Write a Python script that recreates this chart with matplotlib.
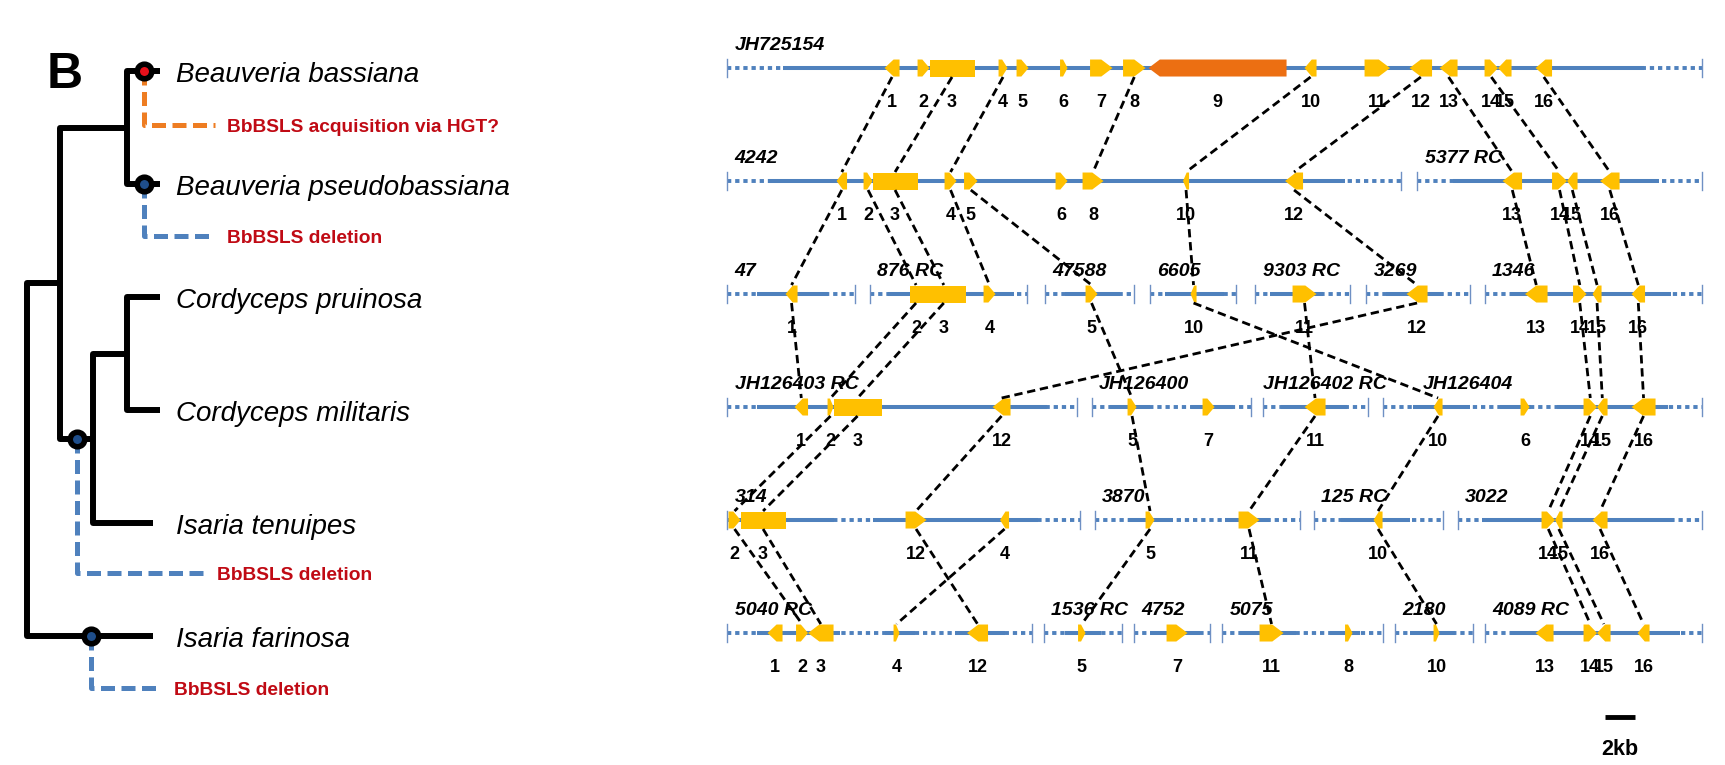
import matplotlib.pyplot as plt
from matplotlib.patches import Polygon

plt.rcParams['font.family'] = ['Liberation Sans', 'DejaVu Sans']

# ---- phylogeny (left) ----
TAXA = ['Beauveria bassiana', 'Beauveria pseudobassiana', 'Cordyceps pruinosa',
        'Cordyceps militaris', 'Isaria tenuipes', 'Isaria farinosa']
TIP_X = [160, 160, 160, 160, 153, 153]
# (node depth, children); ints are taxa indices
TREE = (27, [(60, [(127, [0, 1]), (93, [(127, [2, 3]), 4])]), 5])

EVENT_CLADE = [(0,), (1,), (2, 3, 4), (5,)]
EVENT_X = [144, 144, 77, 91]
EVENT_DROP = [0.47, 0.46, 1.19, 0.46]
EVENT_RUN = [71, 71, 128, 71]
EVENT_COLOR = ['#EE7D22', '#4F81BD', '#4F81BD', '#4F81BD']
EVENT_DOT = ['#E8101A', '#1F4E8A', '#1F4E8A', '#1F4E8A']
EVENT_TEXT = ['BbBSLS acquisition via HGT?', 'BbBSLS deletion',
              'BbBSLS deletion', 'BbBSLS deletion']

# ---- synteny (right), positions in kb ----
# contig: (name, start, end, solid pieces); the rest of the contig is dotted
CONTIGS_1 = [('JH725154', 0.0, 65.0, [(3.7, 61.1)])]
CONTIGS_2 = [('4242', 0.0, 44.9, [(2.7, 41.2)]),
             ('5377 RC', 46.0, 65.0, [(48.4, 62.1)])]
CONTIGS_3 = [('47', 0.0, 8.5, [(2.0, 6.7)]), ('876 RC', 9.5, 20.0, [(10.7, 19.1)]),
             ('47588', 21.2, 27.1, [(22.5, 26.2)]), ('6605', 28.2, 33.9, [(29.2, 33.1)]),
             ('9303 RC', 35.2, 41.5, [(36.2, 39.7)]), ('3269', 42.6, 49.5, [(43.9, 47.7)]),
             ('1346', 50.5, 65.0, [(52.2, 62.9)])]
CONTIGS_4 = [('JH126403 RC', 0.0, 23.3, [(2.0, 21.3)]),
             ('JH126400', 24.3, 34.9, [(25.5, 28.2), (30.9, 33.7)]),
             ('JH126402 RC', 35.7, 42.7, [(36.9, 41.3)]),
             ('JH126404', 43.7, 65.0, [(45.7, 49.5), (51.5, 53.6), (55.3, 62.7)])]
CONTIGS_5 = [('314', 0.0, 23.5, [(0.0, 7.1), (9.7, 20.7)]),
             ('3870', 24.5, 38.2, [(26.7, 29.7), (33.2, 36.2)]),
             ('125 RC', 39.1, 47.7, [(40.9, 45.5)]),
             ('3022', 48.7, 65.0, [(50.3, 63.1)])]
CONTIGS_6 = [('5040 RC', 0.0, 20.3, [(2.0, 7.5), (10.5, 12.5), (15.2, 18.5)]),
             ('1536 RC', 21.1, 26.3, [(22.5, 24.9)]), ('4752', 27.1, 32.2, [(28.2, 31.5)]),
             ('5075', 33.0, 43.7, [(34.2, 37.9), (40.2, 42.2)]),
             ('2180', 44.5, 49.7, [(45.5, 48.5)]), ('4089 RC', 50.5, 65.0, [(52.2, 63.5)])]

# gene: (id, start, end, strand)  strand 0 = plain block
GENES_1 = [(1, 10.5, 11.5, -1), (2, 12.7, 13.5, 1), (3, 13.5, 16.5, 0), (4, 18.1, 18.7, 1),
           (5, 19.3, 20.1, 1), (6, 22.2, 22.7, 1), (7, 24.2, 25.7, 1), (8, 26.4, 27.9, 1),
           (9, 28.1, 37.3, -1), (10, 38.5, 39.3, -1), (11, 42.5, 44.2, 1), (12, 45.5, 47.0, -1),
           (13, 47.5, 48.7, -1), (14, 50.5, 51.4, 1), (15, 51.4, 52.3, -1), (16, 53.9, 55.0, -1)]
GENES_2 = [(1, 7.3, 8.0, -1), (2, 9.1, 9.7, 1), (3, 9.7, 12.7, 0), (4, 14.5, 15.3, 1),
           (5, 15.8, 16.7, 1), (6, 21.9, 22.7, 1), (8, 23.7, 25.1, 1), (10, 30.4, 30.8, -1),
           (12, 37.2, 38.4, -1), (13, 51.7, 53.0, -1), (14, 55.0, 56.0, 1), (15, 56.0, 56.7, -1),
           (16, 58.2, 59.5, -1)]
GENES_3 = [(1, 3.9, 4.7, -1), (2, 12.2, 13.0, 0), (3, 13.0, 15.9, 0), (4, 17.1, 17.9, 1),
           (5, 23.9, 24.7, 1), (10, 30.9, 31.3, -1), (11, 37.7, 39.3, 1), (12, 45.3, 46.7, -1),
           (13, 53.2, 54.7, -1), (14, 56.4, 57.3, 1), (15, 57.7, 58.3, -1), (16, 60.3, 61.2, -1)]
GENES_4 = [(1, 4.5, 5.4, -1), (2, 6.7, 7.1, 1), (3, 7.1, 10.3, 0), (12, 17.7, 18.9, -1),
           (5, 26.7, 27.3, 1), (7, 31.7, 32.5, 1), (11, 38.5, 39.9, -1), (10, 47.1, 47.7, -1),
           (6, 52.9, 53.5, 1), (14, 57.1, 58.0, 1), (15, 58.0, 58.7, -1), (16, 60.3, 61.9, -1)]
GENES_5 = [(2, 0.1, 0.9, 1), (3, 0.9, 3.9, 0), (12, 11.9, 13.3, 1), (4, 18.2, 18.8, -1),
           (5, 27.9, 28.5, 1), (11, 34.1, 35.5, 1), (10, 43.1, 43.7, -1), (14, 54.3, 55.2, 1),
           (15, 55.2, 55.7, -1), (16, 57.7, 58.7, -1)]
GENES_6 = [(1, 2.7, 3.7, -1), (2, 4.6, 5.4, 1), (3, 5.4, 7.1, -1), (4, 11.1, 11.5, 1),
           (12, 16.0, 17.4, -1), (5, 23.4, 23.9, 1), (7, 29.3, 30.7, 1), (11, 35.5, 37.1, 1),
           (8, 41.2, 41.7, 1), (10, 47.1, 47.5, 1), (13, 53.9, 55.1, -1), (14, 57.1, 58.0, 1),
           (15, 58.0, 58.9, -1), (16, 60.7, 61.5, -1)]

# orthologous genes joined between neighbouring rows
LINKS_12 = [1, 3, 4, 8, 10, 12, 13, 14, 16]
LINKS_23 = [1, 2, 3, 4, 5, 10, 12, 13, 14, 15, 16]
LINKS_34 = [1, 2, 3, 5, 10, 11, 12, 14, 15, 16]
LINKS_45 = [2, 3, 12, 5, 11, 10, 14, 15, 16]
LINKS_56 = [2, 3, 12, 4, 5, 11, 10, 14, 15, 16]

SCALE_KB = 2
LABEL_SHIFT = {'JH126402 RC': -0.5, 'JH126404': 2.2}

BLUE = '#4F81BD'
GOLD = '#FFC000'
ORANGE = '#EC6F12'
RED = '#C00A14'
PX = 1 / 113.0  # one pixel in row units

fig = plt.figure(figsize=(17.25, 7.65), dpi=100)
ylo, yhi = 6.168, -0.602

axt = fig.add_axes([0, 0, 1, 1])
axt.set_xlim(0, 1725)
axt.set_ylim(ylo, yhi)
axt.axis('off')

axs = fig.add_axes([0, 0, 1, 1])
axs.set_xlim(-48.47, 66.53)
axs.set_ylim(ylo, yhi)
axs.axis('off')
axs.patch.set_alpha(0)

# ---- draw tree ----
pos = {}


def layout(node):
    if isinstance(node, int):
        y = node + 0.03
        pos[(node,)] = (TIP_X[node], y)
        return (node,), TIP_X[node], y
    depth, kids = node
    (l1, x1, y1), (l2, x2, y2) = [layout(k) for k in kids]
    axt.plot([x1, depth, depth, x2], [y1, y1, y2, y2], color='black', lw=4.3,
             solid_joinstyle='round', solid_capstyle='butt', zorder=2)
    y = (y1 + y2) / 2
    pos[l1 + l2] = (depth, y)
    return l1 + l2, depth, y


layout(TREE)

for i, name in enumerate(TAXA):
    axt.text(176, i + 0.03 + 11 * PX, name, fontsize=20, style='italic', va='baseline')

for clade, x, drop, run, c, dot, txt in zip(EVENT_CLADE, EVENT_X, EVENT_DROP, EVENT_RUN,
                                            EVENT_COLOR, EVENT_DOT, EVENT_TEXT):
    y = pos[clade][1]
    axt.plot([x, x, x + run], [y, y + drop, y + drop], color=c, lw=3.6,
             ls=(0, (2.8, 1.3)), dash_capstyle='butt', zorder=3)
    axt.scatter([x], [y], s=110, facecolor=dot, edgecolor='black', linewidth=4.0, zorder=5)
    axt.text(x + run + 12, y + drop + 7 * PX, txt, color=RED, fontsize=13.8,
             fontweight='bold', va='baseline')

axt.text(47, 20 * PX, 'B', fontsize=36, fontweight='bold', va='baseline')

# ---- draw synteny ----
ROWS = [CONTIGS_1, CONTIGS_2, CONTIGS_3, CONTIGS_4, CONTIGS_5, CONTIGS_6]
GENE_ROWS = [GENES_1, GENES_2, GENES_3, GENES_4, GENES_5, GENES_6]
LINKS = [LINKS_12, LINKS_23, LINKS_34, LINKS_45, LINKS_56]

for r, contigs in enumerate(ROWS):
    for name, s, e, solids in contigs:
        axs.plot([s, e], [r, r], color=BLUE, lw=2.8, ls=(0, (1.1, 1.0)),
                 dash_capstyle='butt', zorder=1)
        for a, b in solids:
            axs.plot([a, b], [r, r], color=BLUE, lw=2.9, solid_capstyle='butt', zorder=1)
        for t in (s, e):
            axs.plot([t, t], [r - 9 * PX, r + 9 * PX], color='#6F90C4', lw=1, zorder=1)
        axs.text(s + 0.5 + LABEL_SHIFT.get(name, 0), r - 18 * PX, name, fontsize=14,
                 fontweight='bold', style='italic', va='baseline')

centers = []
h = 8.5 * PX
for r, genes in enumerate(GENE_ROWS):
    c = {}
    for g, s, e, strand in genes:
        head = min(0.75, 0.6 * (e - s)) if strand else 0
        if strand >= 0:
            pts = [(s, r - h), (e - head, r - h), (e, r), (e - head, r + h), (s, r + h)]
        else:
            pts = [(e, r - h), (s + head, r - h), (s, r), (s + head, r + h), (e, r + h)]
        axs.add_patch(Polygon(pts, closed=True, facecolor=ORANGE if g == 9 else GOLD,
                              edgecolor='none', zorder=2))
        axs.text((s + e) / 2, r + 38.5 * PX, str(g), ha='center', va='baseline',
                 fontsize=13, fontweight='bold', zorder=3)
        c[g] = (s + e) / 2
    centers.append(c)

for r, ids in enumerate(LINKS):
    for g in ids:
        axs.plot([centers[r][g], centers[r + 1][g]], [r + 9 * PX, r + 1 - 9 * PX],
                 color='black', lw=2.0, ls=(0, (3.0, 1.7)), zorder=4)

# scale bar
axs.plot([58.5, 58.5 + SCALE_KB], [5.743, 5.743], color='black', lw=3.5, solid_capstyle='butt')
axs.text(58.5 + SCALE_KB / 2, 6.08, '%dkb' % SCALE_KB, ha='center', va='baseline',
         fontsize=15.5, fontweight='bold')

fig.savefig('out.png', dpi=100)
